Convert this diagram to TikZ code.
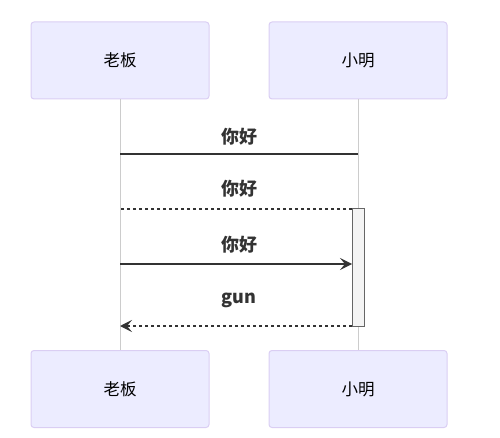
\documentclass[tikz,border=0pt]{standalone}
\usepackage{fontspec}
\newfontfamily\cjk{Noto Sans CJK SC}
\usetikzlibrary{arrows.meta}
\definecolor{actfill}{HTML}{ECECFF}
\definecolor{actline}{HTML}{DACEF3}
\definecolor{msg}{HTML}{333333}
\definecolor{life}{HTML}{CCCCCC}
\definecolor{actvfill}{HTML}{F4F4F4}
\definecolor{actvline}{HTML}{666666}
\begin{document}
\begin{tikzpicture}[x=1pt,y=-1pt,
  actor/.style={draw=actline, fill=actfill, rounded corners=3pt, minimum width=178pt, minimum height=77pt, line width=1pt, font=\cjk\fontsize{16.5}{19}\selectfont, text=black, inner sep=0pt},
  lifeline/.style={draw=life, line width=1pt},
  activation/.style={draw=actvline, fill=actvfill, line width=1pt, minimum width=12pt, minimum height=117pt, inner sep=0pt},
  msgline/.style={draw=msg, line width=1.5pt},
  msgdash/.style={msgline, dash pattern=on 3pt off 3pt},
  tip/.style={-{Stealth[length=12pt,width=12pt,inset=5pt]}},
  msglabel/.style={font=\cjk\bfseries\fontsize{18}{21}\selectfont, text=msg, inner sep=0pt}
]
\useasboundingbox (0,0) rectangle (500,438);
\node[actor] (a1) at (120,60.5) {老板};
\node[actor] (a2) at (358,60.5) {小明};
\node[actor] (b1) at (120,389) {老板};
\node[actor] (b2) at (358,389) {小明};
\draw[lifeline] (a1.south) -- (b1.north);
\draw[lifeline] (a2.south) -- (b2.north);
\node[activation] (act) at (358,267.5) {};
% message 1
\coordinate (m1a) at (358,154);
\coordinate (m1b) at (120,154);
\draw[msgline] (m1a) -- (m1b);
\node[msglabel] (l1) at (239,137) {你好};
% message 2
\coordinate (m2a) at (352,209);
\coordinate (m2b) at (120,209);
\draw[msgdash] (m2a) -- (m2b);
\node[msglabel] (l2) at (239,189) {你好};
% message 3
\coordinate (m3a) at (120,264);
\coordinate (m3b) at (352,264);
\draw[msgline, tip] (m3a) -- (m3b);
\node[msglabel] (l3) at (239,245) {你好};
% message 4
\coordinate (m4a) at (352,326);
\coordinate (m4b) at (120,326);
\draw[msgdash, tip] (m4a) -- (m4b);
\node[msglabel] (l4) at (239,300) {gun};
\end{tikzpicture}
\end{document}
